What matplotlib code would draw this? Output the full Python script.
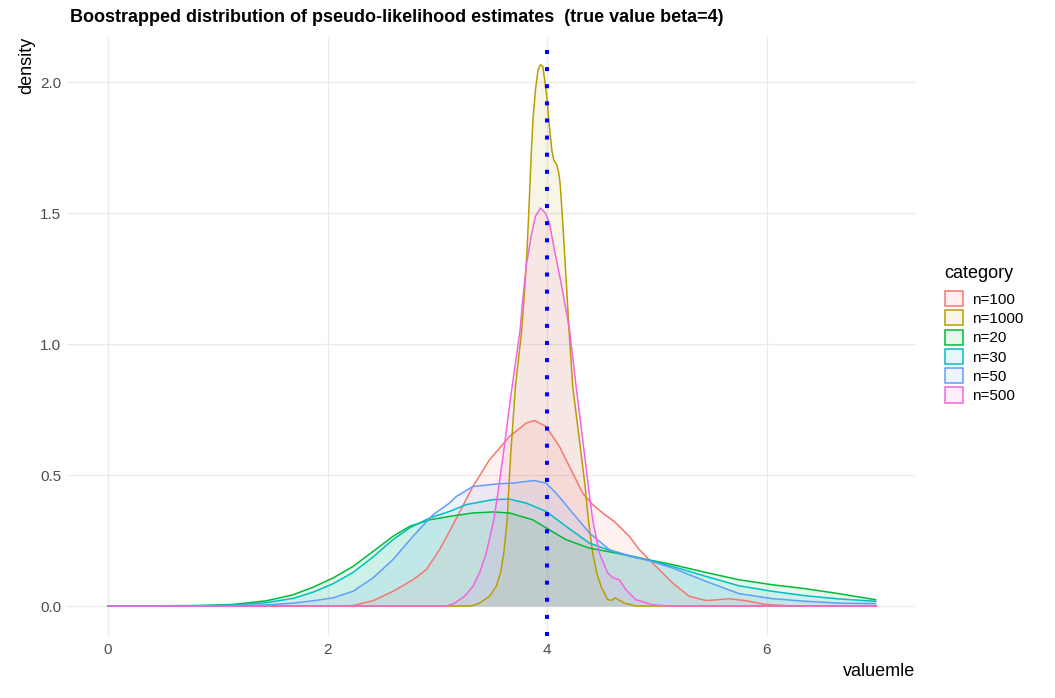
import numpy as np
import matplotlib
matplotlib.use('Agg')
import matplotlib.pyplot as plt
from matplotlib.patches import Patch
from matplotlib.colors import to_rgba

plt.rcParams['font.family'] = ['Liberation Sans', 'DejaVu Sans']

# ------------------------
# data (density curves per category)
# ------------------------

categories = ['n=100', 'n=1000', 'n=20', 'n=30', 'n=50', 'n=500']
colors = ['#F8766D', '#B79F00', '#00BA38', '#00BFC4', '#619CFF', '#F564E3']

x_n100 = [0, 2.1, 2.232, 2.414, 2.596, 2.778, 2.900, 3.021, 3.112, 3.324, 3.476, 3.658,
          3.810, 3.885, 3.992, 4.113, 4.219, 4.325, 4.416, 4.507, 4.613, 4.750, 4.841,
          4.902, 4.993, 5.144, 5.296, 5.448, 5.560, 5.660, 5.811, 5.993, 6.2, 7.0]
y_n100 = [0, 0, 0.002, 0.020, 0.056, 0.100, 0.139, 0.215, 0.285, 0.456, 0.558, 0.647,
          0.698, 0.708, 0.685, 0.609, 0.520, 0.431, 0.387, 0.355, 0.323, 0.266, 0.215,
          0.189, 0.151, 0.088, 0.037, 0.021, 0.024, 0.028, 0.020, 0.006, 0.001, 0]

x_n1000 = [0, 3.309, 3.385, 3.476, 3.537, 3.576, 3.606, 3.637, 3.652, 3.670, 3.712,
           3.770, 3.800, 3.818, 3.832, 3.845, 3.858, 3.874, 3.895, 3.918, 3.940,
           3.961, 3.983, 4.001, 4.013, 4.028, 4.043, 4.061, 4.089, 4.107, 4.119, 4.140,
           4.158, 4.176, 4.200, 4.234, 4.310, 4.347, 4.377, 4.416, 4.453, 4.492, 4.553,
           4.590, 4.622, 4.660, 4.704, 4.81, 7.0]
y_n1000 = [0, 0, 0.011, 0.037, 0.075, 0.126, 0.202, 0.329, 0.456, 0.584, 0.838,
           1.055, 1.233, 1.360, 1.487, 1.614, 1.742, 1.869, 1.971, 2.047, 2.066,
           2.060, 1.996, 1.932, 1.869, 1.805, 1.742, 1.703, 1.684, 1.653, 1.614, 1.487,
           1.360, 1.233, 1.055, 0.838, 0.584, 0.456, 0.329, 0.202, 0.126, 0.075, 0.024,
           0.022, 0.031, 0.022, 0.011, 0, 0]

x_n20 = [0, 0.5, 0.837, 1.140, 1.444, 1.687, 1.869, 2.050, 2.232, 2.414, 2.596, 2.748,
         2.930, 3.112, 3.324, 3.506, 3.658, 3.870, 3.992, 4.174, 4.386, 4.629, 4.80,
         4.93, 5.144, 5.448, 5.751, 6.054, 6.357, 6.661, 6.994]
y_n20 = [0, 0.001, 0.002, 0.006, 0.020, 0.043, 0.072, 0.107, 0.151, 0.208, 0.266, 0.304,
         0.329, 0.342, 0.355, 0.359, 0.355, 0.329, 0.298, 0.253, 0.221, 0.202, 0.188,
         0.176, 0.158, 0.128, 0.100, 0.081, 0.066, 0.047, 0.024]

x_n30 = [0, 0.837, 1.140, 1.444, 1.687, 1.869, 2.050, 2.232, 2.414, 2.596, 2.748, 2.930,
         3.112, 3.264, 3.506, 3.658, 3.810, 3.992, 4.174, 4.386, 4.629, 4.80, 4.93,
         5.144, 5.448, 5.751, 6.054, 6.357, 6.661, 6.994]
y_n30 = [0, 0.001, 0.003, 0.013, 0.029, 0.053, 0.085, 0.128, 0.187, 0.253, 0.298, 0.336,
         0.361, 0.387, 0.406, 0.408, 0.393, 0.361, 0.304, 0.240, 0.204, 0.185, 0.175,
         0.151, 0.113, 0.077, 0.056, 0.039, 0.027, 0.018]

x_n50 = [0, 1.0, 1.444, 1.687, 1.869, 2.050, 2.232, 2.414, 2.596, 2.778, 2.960, 3.112,
         3.173, 3.324, 3.567, 3.688, 3.885, 3.992, 4.083, 4.234, 4.386, 4.568, 4.78,
         4.93, 5.144, 5.448, 5.751, 6.054, 6.357, 6.661, 6.994]
y_n50 = [0, 0.001, 0.004, 0.011, 0.020, 0.031, 0.056, 0.107, 0.177, 0.266, 0.348, 0.393,
         0.418, 0.456, 0.467, 0.469, 0.479, 0.469, 0.431, 0.355, 0.279, 0.215, 0.188,
         0.173, 0.145, 0.094, 0.047, 0.028, 0.018, 0.011, 0.009]

x_n500 = [0, 3.082, 3.157, 3.248, 3.324, 3.385, 3.446, 3.515, 3.561, 3.603, 3.642, 3.682,
          3.755, 3.779, 3.810, 3.855, 3.894, 3.940, 3.985, 4.022, 4.067, 4.128, 4.205,
          4.265, 4.340, 4.377, 4.416, 4.477, 4.553, 4.600, 4.659, 4.719, 4.81, 4.962,
          5.1, 7.0]
y_n500 = [0, 0, 0.011, 0.037, 0.075, 0.126, 0.202, 0.329, 0.456, 0.584, 0.711, 0.838,
          1.055, 1.169, 1.296, 1.411, 1.487, 1.519, 1.500, 1.462, 1.360, 1.233, 1.055,
          0.838, 0.584, 0.456, 0.329, 0.202, 0.126, 0.108, 0.100, 0.062, 0.024, 0.005,
          0, 0]

curves_x = [x_n100, x_n1000, x_n20, x_n30, x_n50, x_n500]
curves_y = [y_n100, y_n1000, y_n20, y_n30, y_n50, y_n500]

true_beta = 4
x_ticks = [0, 2, 4, 6]
y_ticks = [0.0, 0.5, 1.0, 1.5, 2.0]

# ------------------------

fig = plt.figure(figsize=(10.55, 6.98), dpi=100)
ax = fig.add_axes([67/1055, 1-636/698, 848/1055, 599/698])

for xs, ys, c in zip(curves_x, curves_y, colors):
    ax.fill_between(xs, ys, 0, color=c, alpha=0.1, lw=0)
    ax.plot(xs, ys, color=c, lw=1.1, solid_joinstyle='round')

ax.axvline(true_beta, color='blue', linestyle=(0, (1, 3.25)), lw=2.9,
           dash_capstyle='butt')

ax.set_xlim(-0.374, 7.353)
ax.set_ylim(-0.1145, 2.172)
ax.set_xticks(x_ticks)
ax.set_yticks(y_ticks)
ax.set_yticklabels(['%.1f' % v for v in y_ticks])
ax.grid(True, color='#EBEBEB', lw=1.0)
ax.set_axisbelow(True)
for s in ax.spines.values():
    s.set_visible(False)
ax.tick_params(axis='both', length=0, labelsize=11, colors='#4D4D4D')
ax.tick_params(axis='x', pad=5)
ax.tick_params(axis='y', pad=4)

ax.set_xlabel('valuemle', loc='right', fontsize=13)
ax.set_ylabel('density', loc='top', fontsize=13)

fig.text(70/1055, 1-18/698, 'Boostrapped distribution of pseudo-likelihood estimates  (true value beta=4)',
         fontsize=13, fontweight='bold', va='center', ha='left')

# legend: title drawn separately so the gap matches ggplot
fig.text(944/1055, 1-273/698, 'category', fontsize=13, va='center', ha='left')
handles = [Patch(facecolor=to_rgba(c, 0.1), edgecolor=c, lw=1.1) for c in colors]
leg = fig.legend(handles, categories, loc='upper left',
                 bbox_to_anchor=(945/1055, 1-291/698), frameon=False, fontsize=11,
                 handlelength=1.15, handleheight=1.15,
                 handletextpad=0.62, labelspacing=0.23, borderpad=0, borderaxespad=0)

fig.savefig('out.png', dpi=100)
